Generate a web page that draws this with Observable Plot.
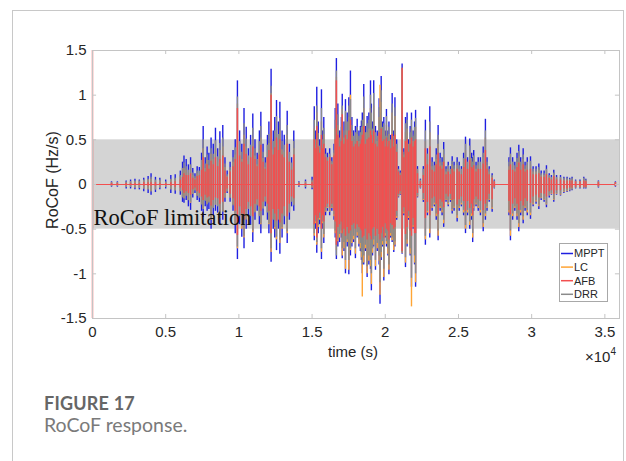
<!DOCTYPE html>
<html><head><meta charset="utf-8">
<script src="https://cdn.jsdelivr.net/npm/d3@7"></script>
<script src="https://cdn.jsdelivr.net/npm/@observablehq/plot@0.6"></script>
<style>
html,body{margin:0;padding:0;background:#fff;}
body{width:626px;height:461px;overflow:hidden;position:relative;}
#card{position:absolute;left:12px;top:10px;width:610px;height:520px;border:1px solid #c8c8c8;border-bottom:none;}
#chart{position:absolute;left:0;top:0;}
#cap{position:absolute;left:44px;top:392px;font-family:Lato,"Open Sans",sans-serif;}
#cap .t{font-weight:700;font-size:18px;color:#666;line-height:22px;letter-spacing:0.2px;}
#cap .s{font-size:19.5px;color:#7a7a7a;line-height:22px;}
</style>
</head><body>
<div id="card"></div>
<div id="chart"></div>
<div id="cap"><div class="t">FIGURE 17</div><div class="s">RoCoF response.</div></div>
<script>
// ---- data ----
const xTicks=[0,5000,10000,15000,20000,25000,30000,35000];
const xTickLabels=["0","0.5","1","1.5","2","2.5","3","3.5"];
const yTicks=[-1.5,-1,-0.5,0,0.5,1,1.5];
const yTickLabels=["-1.5","-1","-0.5","0","0.5","1","1.5"];
const bandLimits=[-0.5,0.5];
const seriesNames=["MPPT","LC","AFB","DRR"];
const seriesColors=["#1f1fe0","#ffa535","#f24f4f","#8a8a8a"];
const annotation="RoCoF limitation";

const times=[0,
1300,1700,2300,2600,2900,3200,3500,3800,4000,4300,4600,5000,5350,5650,
6000,6150,6250,6400,6550,6700,6850,7000,7150,7300,
7450,7560,7700,7830,7950,8100,8250,8400,8550,8700,
8900,9050,9200,9400,9600,9750,9900,10050,10200,10350,
10500,10650,10800,10950,11100,11250,11400,11500,11650,11800,
11950,12050,12200,12350,12450,12570,12700,12800,12950,13100,
13300,13450,13600,13750,14100,14550,15000,
15150,15250,15320,15420,15520,15640,15720,15800,15920,16050,
16200,16350,16500,16580,16660,16760,16880,17000,17060,17180,
17280,17400,17510,17620,17720,17840,17960,18080,18200,18300,
18370,18430,18530,18640,18760,18880,18990,19050,19130,19210,
19330,19450,19580,19640,19720,19820,19900,20000,20080,20180,
20250,20370,20470,20580,20660,20780,20900,21020,21150,21270,
21380,21490,21600,21700,21790,21900,22000,22070,22200,22400,
22600,22740,22880,23040,23200,23350,23480,23610,23750,23880,
23990,24150,24300,24450,24570,24700,24910,25050,25200,25350,
25480,25620,25770,25900,25970,26040,26200,26350,26500,26690,
26840,26950,27100,27300,27450,
28450,28550,28700,28850,29000,29120,29250,29420,29550,29700,
29920,30100,30300,30490,30650,30850,31010,31200,31350,31510,
31700,31970,32200,32420,32600,32760,33000,33300,33560,33700,
34560,35720];

const mpptHi=[0,
.03,.03,.04,.05,.06,.05,.07,.09,.12,.08,.07,.05,.10,.11,
.15,.25,.32,.28,.22,.30,.18,.12,.20,.19,
.35,.65,.30,.42,.35,.52,.45,.63,.40,.59,
.66,.30,.15,.25,.38,.50,1.16,.60,.45,.85,
.64,.40,.55,.79,.50,.35,.60,.81,.45,.30,
.55,.70,1.29,.60,.75,.94,.70,.92,.60,.55,
.82,.45,.30,.60,.03,.05,.08,
.87,.60,1.09,.70,.50,1.06,.60,.75,.40,.35,
.40,.30,.45,.85,1.41,.90,.60,.75,1.01,.70,
.95,.80,.97,1.27,.75,.60,.65,.73,.60,.65,
.71,.80,1.12,.65,.76,.80,1.16,.90,.70,1.16,
.65,.60,.96,.80,1.21,.70,.75,.60,.84,.60,
.70,.55,1.02,.60,.97,.50,.20,.15,1.35,.40,
.75,.80,.50,.65,.80,.60,.70,.83,.20,.06,
.20,.72,.40,.87,.30,.25,.40,.66,.35,.30,
.47,.20,.25,.20,.31,.25,.30,.25,.20,.35,
.53,.30,.51,.35,.30,.38,.25,.30,.30,.42,
.73,.30,.20,.12,.05,
.30,.41,.30,.25,.35,.44,.30,.40,.25,.30,
.31,.20,.20,.23,.15,.15,.21,.12,.10,.16,
.10,.10,.08,.08,.07,.08,.05,.05,.08,.06,
.04,.03];
const mpptLo=[0,
-.03,-.03,-.05,-.05,-.06,-.06,-.08,-.10,-.12,-.09,-.06,-.05,-.10,-.11,
-.12,-.20,-.21,-.18,-.25,-.29,-.15,-.10,-.18,-.20,
-.30,-.37,-.25,-.30,-.28,-.50,-.35,-.30,-.32,-.46,
-.40,-.20,-.10,-.20,-.30,-.55,-.84,-.45,-.59,-.72,
-.50,-.35,-.45,-.65,-.40,-.30,-.45,-.55,-.35,-.25,
-.40,-.55,-.87,-.50,-.60,-.74,-.50,-.78,-.60,-.45,
-.66,-.40,-.25,-.30,-.03,-.05,-.06,
-.63,-.50,-.77,-.55,-.45,-.84,-.50,-.66,-.35,-.30,
-.35,-.30,-.40,-.60,-.84,-.70,-.65,-.60,-.83,-.75,
-1.00,-.70,-1.01,-.80,-.70,-.65,-.83,-.60,-.70,-.75,
-.85,-1.00,-.90,-.75,-1.04,-.90,-.95,-1.19,-.80,-.70,
-.96,-.75,-.90,-1.34,-.85,-.70,-1.08,-.60,-.70,-.80,
-1.01,-.60,-.65,-.76,-.70,-.40,-.15,-.12,-.78,-.35,
-.93,-.70,-.40,-.80,-1.15,-.50,-.90,-1.15,-.15,-.05,
-.20,-.68,-.35,-.60,-.30,-.25,-.40,-.63,-.30,-.35,
-.48,-.20,-.25,-.20,-.33,-.30,-.42,-.30,-.25,-.35,
-.55,-.35,-.50,-.40,-.65,-.30,-.25,-.30,-.35,-.53,
-.40,-.30,-.20,-.31,-.05,
-.35,-.63,-.40,-.30,-.40,-.53,-.35,-.44,-.30,-.35,
-.39,-.25,-.22,-.28,-.18,-.20,-.26,-.15,-.12,-.20,
-.12,-.13,-.10,-.09,-.08,-.07,-.05,-.05,-.05,-.05,
-.04,-.03];

const lcHi=[0,
.02,.02,.02,.03,.03,.03,.04,.05,.06,.04,.04,.02,.05,.05,
.08,.14,.18,.16,.13,.17,.10,.07,.12,.12,
.21,.40,.18,.27,.21,.34,.28,.40,.25,.38,
.42,.19,.09,.16,.25,.33,.90,.38,.28,.55,
.42,.26,.36,.52,.32,.22,.38,.52,.29,.19,
.36,.46,1.02,.39,.49,.62,.46,.60,.39,.36,
.55,.29,.19,.40,.02,.03,.04,
.62,.44,.80,.48,.38,.70,.44,.56,.31,.28,
.31,.24,.35,.62,1.20,.66,.46,.55,.84,.52,
.70,.60,.75,1.00,.58,.48,.50,.56,.48,.52,
.55,.62,.85,.50,.58,.62,.85,.70,.54,.88,
.50,.48,.75,1.11,.92,.55,.60,.48,.66,.48,
.56,.44,.80,.48,.76,.40,.16,.12,1.28,.33,
.58,.62,.40,.52,.62,.48,.56,.64,.15,.04,
.13,.48,.28,.58,.20,.17,.28,.45,.24,.21,
.33,.14,.17,.14,.22,.17,.21,.17,.14,.24,
.38,.21,.36,.25,.21,.27,.17,.21,.21,.30,
.52,.21,.14,.08,.03,
.20,.29,.21,.17,.25,.31,.21,.28,.17,.21,
.22,.14,.14,.16,.10,.10,.15,.08,.07,.11,
.07,.07,.05,.05,.05,.05,.03,.03,.05,.04,
.03,.02];
const lcLo=[0,
-.02,-.02,-.03,-.03,-.04,-.04,-.05,-.06,-.08,-.06,-.04,-.03,-.06,-.07,
-.08,-.14,-.16,-.13,-.18,-.21,-.11,-.07,-.13,-.15,
-.22,-.28,-.18,-.22,-.20,-.40,-.26,-.23,-.24,-.38,
-.30,-.15,-.08,-.15,-.23,-.46,-.72,-.35,-.50,-.60,
-.39,-.27,-.35,-.54,-.31,-.23,-.35,-.45,-.27,-.19,
-.31,-.45,-.76,-.39,-.50,-.62,-.39,-.66,-.50,-.35,
-.55,-.31,-.19,-.23,-.02,-.03,-.04,
-.58,-.44,-.68,-.48,-.40,-.76,-.44,-.60,-.31,-.27,
-.31,-.27,-.36,-.55,-.74,-.64,-.60,-.55,-.80,-.72,
-.95,-.65,-.96,-.74,-.66,-.62,-.78,-.58,-.67,-.72,
-.82,-1.26,-.88,-.72,-1.00,-.86,-.92,-1.12,-.77,-.68,
-.92,-.72,-.86,-1.24,-.82,-.68,-1.04,-.58,-.67,-.78,
-.96,-.58,-.63,-.74,-.68,-.38,-.14,-.11,-.77,-.33,
-.88,-.67,-.38,-.78,-1.37,-.48,-.88,-1.10,-.14,-.04,
-.18,-.62,-.32,-.55,-.27,-.23,-.36,-.58,-.27,-.32,
-.44,-.18,-.23,-.18,-.30,-.27,-.38,-.27,-.23,-.32,
-.50,-.32,-.46,-.36,-.60,-.27,-.23,-.27,-.32,-.48,
-.36,-.27,-.18,-.28,-.04,
-.32,-.58,-.36,-.27,-.36,-.48,-.32,-.40,-.27,-.32,
-.35,-.23,-.20,-.25,-.16,-.18,-.23,-.13,-.11,-.18,
-.11,-.12,-.09,-.08,-.07,-.06,-.04,-.04,-.04,-.04,
-.03,-.02];

const afbHi=[1.5,
.01,.01,.01,.01,.01,.01,.02,.02,.02,.02,.01,.01,.02,.03,
.05,.08,.12,.10,.10,.12,.07,.05,.09,.10,
.16,.30,.14,.22,.17,.26,.22,.30,.20,.28,
.32,.15,.08,.14,.20,.28,.85,.32,.25,.45,
.34,.22,.30,.42,.28,.20,.33,.44,.25,.17,
.30,.38,1.00,.33,.41,.52,.38,.50,.33,.30,
.45,.25,.16,.33,.01,.01,.02,
.50,.40,.65,.42,.35,.55,.40,.45,.30,.26,
.30,.22,.32,.50,1.16,.55,.42,.48,.78,.45,
.55,.50,.60,.72,.48,.42,.45,.48,.42,.45,
.50,.55,.65,.45,.50,.52,.60,.55,.46,.60,
.45,.42,.58,.55,.62,.48,.50,.42,.52,.42,
.48,.40,.56,.42,.55,.36,.14,.10,1.30,.30,
.48,.50,.36,.45,.52,.42,.48,.50,.12,.03,
.10,.40,.22,.42,.16,.14,.22,.35,.20,.17,
.25,.11,.14,.11,.17,.14,.17,.14,.11,.19,
.28,.17,.27,.19,.17,.21,.14,.17,.17,.23,
.38,.17,.11,.07,.03,
.16,.22,.16,.14,.19,.24,.16,.22,.14,.16,
.17,.11,.11,.12,.08,.08,.11,.07,.05,.09,
.05,.05,.04,.04,.04,.04,.03,.03,.04,.03,
.02,.02];
const afbLo=[-1.5,
-.01,-.01,-.01,-.01,-.01,-.01,-.02,-.02,-.02,-.02,-.01,-.01,-.02,-.03,
-.04,-.07,-.10,-.08,-.10,-.12,-.06,-.04,-.08,-.10,
-.14,-.18,-.12,-.15,-.14,-.24,-.18,-.15,-.16,-.22,
-.20,-.10,-.05,-.11,-.16,-.30,-.57,-.25,-.33,-.40,
-.28,-.20,-.25,-.36,-.22,-.17,-.25,-.30,-.20,-.14,
-.22,-.30,-.55,-.28,-.33,-.41,-.28,-.43,-.33,-.25,
-.36,-.22,-.14,-.16,-.01,-.01,-.02,
-.45,-.35,-.60,-.38,-.32,-.50,-.35,-.42,-.26,-.22,
-.26,-.22,-.30,-.42,-.68,-.48,-.45,-.42,-.55,-.50,
-.58,-.48,-.55,-.52,-.46,-.44,-.50,-.45,-.48,-.50,
-.52,-.60,-.58,-.50,-.62,-.55,-.58,-.62,-.50,-.48,
-.58,-.50,-.56,-.62,-.55,-.48,-.60,-.44,-.50,-.52,
-.62,-.44,-.46,-.50,-.48,-.30,-.11,-.08,-.75,-.26,
-.56,-.48,-.30,-.52,-.58,-.38,-.55,-.55,-.10,-.03,
-.10,-.38,-.20,-.35,-.16,-.14,-.22,-.34,-.17,-.20,
-.26,-.11,-.14,-.11,-.18,-.17,-.23,-.17,-.14,-.19,
-.30,-.19,-.27,-.22,-.35,-.17,-.14,-.17,-.19,-.29,
-.22,-.17,-.11,-.17,-.03,
-.19,-.34,-.22,-.16,-.22,-.29,-.19,-.24,-.16,-.19,
-.21,-.14,-.12,-.15,-.10,-.11,-.14,-.08,-.07,-.11,
-.07,-.07,-.05,-.05,-.04,-.04,-.03,-.03,-.03,-.03,
-.02,-.02];

const drrHi=[0,
.02,.02,.03,.03,.04,.04,.05,.06,.08,.05,.05,.03,.06,.07,
.10,.18,.24,.20,.16,.22,.13,.09,.15,.15,
.27,.50,.23,.33,.27,.40,.34,.49,.31,.46,
.52,.23,.11,.19,.30,.41,.98,.48,.36,.68,
.51,.32,.44,.63,.40,.28,.48,.65,.36,.24,
.44,.56,1.10,.48,.60,.76,.56,.74,.48,.44,
.66,.36,.24,.48,.02,.03,.05,
.72,.50,.88,.57,.43,.85,.50,.63,.34,.30,
.34,.26,.38,.72,1.27,.78,.52,.64,.88,.60,
.82,.70,.88,.95,.66,.54,.58,.64,.54,.58,
.64,.72,.98,.58,.68,.72,1.00,.80,.62,1.02,
.58,.54,.86,.72,1.05,.64,.68,.54,.76,.54,
.64,.50,.90,.54,.86,.45,.17,.13,1.30,.36,
.68,.72,.45,.58,.72,.54,.64,.74,.17,.05,
.17,.60,.34,.70,.25,.21,.33,.55,.29,.25,
.39,.17,.21,.17,.26,.21,.25,.21,.17,.29,
.45,.25,.43,.29,.25,.32,.21,.25,.25,.35,
.60,.25,.17,.10,.04,
.25,.34,.25,.21,.29,.37,.25,.33,.21,.25,
.26,.17,.17,.19,.12,.12,.17,.10,.08,.13,
.08,.08,.07,.07,.06,.07,.04,.04,.07,.05,
.03,.02];
const drrLo=[0,
-.02,-.02,-.03,-.03,-.04,-.04,-.05,-.06,-.08,-.06,-.04,-.03,-.06,-.07,
-.08,-.15,-.16,-.13,-.18,-.20,-.11,-.07,-.13,-.15,
-.23,-.28,-.19,-.23,-.21,-.38,-.27,-.23,-.25,-.36,
-.31,-.15,-.08,-.15,-.24,-.45,-.70,-.36,-.47,-.58,
-.40,-.28,-.36,-.52,-.32,-.24,-.36,-.44,-.28,-.20,
-.32,-.44,-.72,-.40,-.48,-.59,-.40,-.62,-.48,-.36,
-.53,-.32,-.20,-.24,-.02,-.03,-.04,
-.55,-.42,-.65,-.46,-.38,-.72,-.42,-.56,-.30,-.26,
-.30,-.26,-.34,-.52,-.80,-.62,-.56,-.52,-.72,-.65,
-.85,-.62,-.85,-.72,-.62,-.58,-.72,-.54,-.62,-.66,
-.76,-.90,-.80,-.68,-.92,-.80,-.85,-1.00,-.72,-.62,
-.85,-.66,-.80,-1.10,-.76,-.64,-.95,-.55,-.64,-.72,
-.90,-.55,-.60,-.68,-.64,-.36,-.13,-.10,-.76,-.31,
-.82,-.62,-.36,-.72,-1.05,-.46,-.80,-1.00,-.13,-.04,
-.17,-.58,-.30,-.50,-.25,-.21,-.33,-.52,-.25,-.29,
-.40,-.17,-.21,-.17,-.28,-.25,-.35,-.25,-.21,-.29,
-.46,-.29,-.42,-.33,-.55,-.25,-.21,-.25,-.29,-.44,
-.33,-.25,-.17,-.26,-.04,
-.29,-.52,-.33,-.25,-.33,-.44,-.29,-.36,-.25,-.29,
-.32,-.21,-.18,-.23,-.15,-.17,-.22,-.12,-.10,-.17,
-.10,-.11,-.08,-.07,-.07,-.06,-.04,-.04,-.04,-.04,
-.03,-.02];

// ---- chart ----
const W=626, H=372, frameBottom=318;
const rowsFor=(hi,lo)=>times.map((t,i)=>({t,hi:hi[i],lo:lo[i]}));
const seriesData={MPPT:rowsFor(mpptHi,mpptLo),LC:rowsFor(lcHi,lcLo),AFB:rowsFor(afbHi,afbLo),DRR:rowsFor(drrHi,drrLo)};
const colorOf=n=>seriesColors[seriesNames.indexOf(n)];
const drawOrder=["MPPT","LC","DRR","AFB"];
const xMax=36000;
const band=[{x1:0,x2:xMax,y1:bandLimits[0],y2:bandLimits[1]}];
const axisColor="#c4c4c4";

const chart=Plot.plot({
  width:W,height:H,
  marginLeft:92,marginRight:7,marginTop:50,marginBottom:H-frameBottom,
  x:{domain:[0,xMax],axis:null},
  y:{domain:[-1.5,1.5],axis:null},
  style:{fontFamily:"'Liberation Sans', Arial, Helvetica, sans-serif",fontSize:"15px",color:"#262626",background:"transparent"},
  marks:[
    Plot.rect(band,{x1:"x1",x2:"x2",y1:"y1",y2:"y2",fill:"#d4d4d4"}),
    ...drawOrder.map(n=>Plot.ruleX(seriesData[n],{x:"t",y1:"lo",y2:"hi",stroke:colorOf(n),strokeWidth:1.4})),
    Plot.ruleY([0],{stroke:colorOf("AFB"),strokeWidth:1.2}),
    Plot.text([annotation],{x:()=>60,y:()=>-0.455,text:d=>d,textAnchor:"start",lineAnchor:"bottom",fontFamily:"'Liberation Serif','Times New Roman',serif",fontSize:22.5,fill:"#111"}),
    Plot.frame({stroke:axisColor}),
    Plot.ruleX(xTicks,{y1:()=>-1.5,y2:()=>-1.455,stroke:axisColor}),
    Plot.ruleX(xTicks,{y1:()=>1.455,y2:()=>1.5,stroke:axisColor}),
    Plot.ruleY(yTicks,{x1:()=>0,x2:()=>280,stroke:axisColor}),
    Plot.ruleY(yTicks,{x1:()=>xMax-280,x2:()=>xMax,stroke:axisColor}),
    Plot.axisX(xTicks,{tickSize:0,tickPadding:8,fontSize:15,tickFormat:d=>xTickLabels[xTicks.indexOf(d)],label:null}),
    Plot.axisY(yTicks,{tickSize:0,tickPadding:6,fontSize:15,tickFormat:d=>yTickLabels[yTicks.indexOf(d)],label:null})
  ]
});
document.getElementById("chart").appendChild(chart);

const svg=d3.select(chart);
const font="'Liberation Sans', Arial, Helvetica, sans-serif";
svg.append("text").attr("transform","translate(58,180) rotate(-90)").attr("text-anchor","middle")
  .attr("font-family",font).attr("font-size",16).attr("fill","#262626").text("RoCoF (Hz/s)");
svg.append("text").attr("x",353).attr("y",357).attr("text-anchor","middle")
  .attr("font-family",font).attr("font-size",15).attr("fill","#262626").text("time (s)");
const ex=svg.append("text").attr("x",585).attr("y",362).attr("text-anchor","start").attr("font-family",font).attr("font-size",15).attr("fill","#262626");
ex.append("tspan").text("\u00d710");
ex.append("tspan").attr("dy",-7).attr("font-size",10).text("4");

const lg=svg.append("g");
lg.append("rect").attr("x",559.5).attr("y",243.5).attr("width",48).attr("height",58).attr("fill","#fff").attr("stroke","#a8a8a8");
seriesNames.forEach((n,i)=>{
  const y=253.5+i*13.6;
  lg.append("line").attr("x1",561).attr("x2",573).attr("y1",y).attr("y2",y).attr("stroke",seriesColors[i]).attr("stroke-width",1.5);
  lg.append("text").attr("x",574).attr("y",y).attr("dy","0.36em").attr("text-anchor","start").attr("font-family",font).attr("font-size",11).attr("fill","#262626").text(n);
});
</script>
</body></html>
